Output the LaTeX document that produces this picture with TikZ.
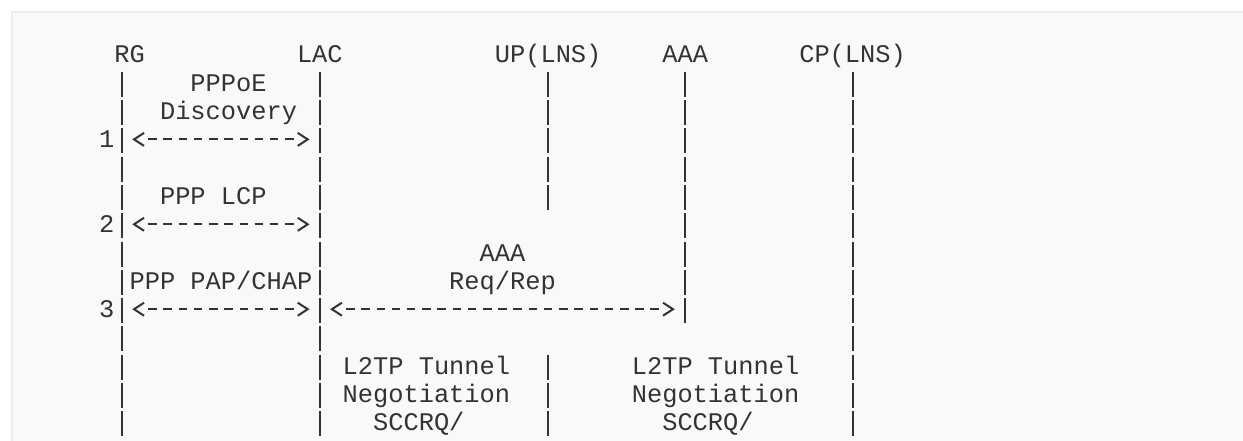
\documentclass[tikz,border=0pt]{standalone}
\usepackage{fontspec}
\newfontfamily\asciifont{Liberation Mono}
\usetikzlibrary{arrows.meta}
\definecolor{ink}{HTML}{333333}
\definecolor{panel}{HTML}{F9F9F9}
\definecolor{rim}{HTML}{ECECEC}

\begin{document}
\begin{tikzpicture}[x=1pt,y=-1pt,
    declare function={cx(\c)=61.12+15.22*\c; ry(\r)=63+28.3*\r;},
    lbl/.style={inner sep=0pt,anchor=base,text=ink,font=\asciifont\fontsize{25.37}{30}\selectfont},
    life/.style={draw=ink,line width=2pt,dash pattern=on 25pt off 3.3pt},
    msg/.style={draw=ink,line width=2pt,dash pattern=on 8.5pt off 6.72pt,
      shorten <=26.2pt,shorten >=26.2pt,
      postaction={draw=ink,dash pattern=on 0pt off 2000pt,shorten <=10.2pt,shorten >=10.3pt,
        {Straight Barb[length=10pt,width=13pt]}-{Straight Barb[length=10pt,width=13pt]}}}]
  \useasboundingbox (0,0) rectangle (1243,441);
  \fill[white] (0,0) rectangle (1243,441);
  \draw[fill=panel,draw=rim,line width=1.5pt] (12,12) rectangle (1270,470);

  % entities
  \node[lbl] (rg)  at ({cx(4.5)},{ry(0)}) {RG};
  \node[lbl] (lac) at ({cx(17)},{ry(0)})  {LAC};
  \node[lbl] (up)  at ({cx(32)},{ry(0)})  {UP(LNS)};
  \node[lbl] (aaa) at ({cx(41)},{ry(0)})  {AAA};
  \node[lbl] (cp)  at ({cx(52)},{ry(0)})  {CP(LNS)};

  % lifelines
  \foreach \n/\c/\e in {rg/4/13,lac/17/13,up/32/5,aaa/41/9,cp/52/13}{
    \coordinate (\n-top) at ({cx(\c)},{ry(1)-19.6});
    \coordinate (\n-end) at ({cx(\c)},{ry(\e)+5.4});
    \draw[life] (\n-top) -- (\n-end);
  }
  \coordinate (mid-top) at ({cx(32)},{ry(11)-19.6});
  \coordinate (mid-end) at ({cx(32)},{ry(13)+5.4});
  \draw[life] (mid-top) -- (mid-end);

  % message rows
  \foreach \r in {3,6,9}
    \coordinate (r\r) at (0,{ry(\r)-8.5});
  \draw[msg] (rg-top |- r3) -- (lac-top |- r3);
  \draw[msg] (rg-top |- r6) -- (lac-top |- r6);
  \draw[msg] (rg-top |- r9) -- (lac-top |- r9);
  \draw[msg] (lac-top |- r9) -- (aaa-top |- r9);

  % step numbers
  \node[lbl] (s1) at ({cx(3)},{ry(3)}) {1};
  \node[lbl] (s2) at ({cx(3)},{ry(6)}) {2};
  \node[lbl] (s3) at ({cx(3)},{ry(9)}) {3};

  % message labels
  \node[lbl] (pppoe) at ({cx(11)},{ry(1)}) {PPPoE};
  \node[lbl] (disc)  at ({cx(11)},{ry(2)}) {Discovery};
  \node[lbl] (lcp)   at ({cx(10)},{ry(5)}) {PPP LCP};
  \node[lbl] (auth)  at ({cx(10.5)},{ry(8)}) {PPP PAP/CHAP};
  \node[lbl] (aaal)  at ({cx(29)},{ry(7)}) {AAA};
  \node[lbl] (req)   at ({cx(29)},{ry(8)}) {Req/Rep};

  % tunnel negotiation
  \node[lbl] (tun1) at ({cx(24)},{ry(11)}) {L2TP Tunnel};
  \node[lbl] (neg1) at ({cx(24)},{ry(12)}) {Negotiation};
  \node[lbl] (scc1) at ({cx(23.5)},{ry(13)}) {SCCRQ/};
  \node[lbl] (tun2) at ({cx(43)},{ry(11)}) {L2TP Tunnel};
  \node[lbl] (neg2) at ({cx(43)},{ry(12)}) {Negotiation};
  \node[lbl] (scc2) at ({cx(42.5)},{ry(13)}) {SCCRQ/};
\end{tikzpicture}
\end{document}
